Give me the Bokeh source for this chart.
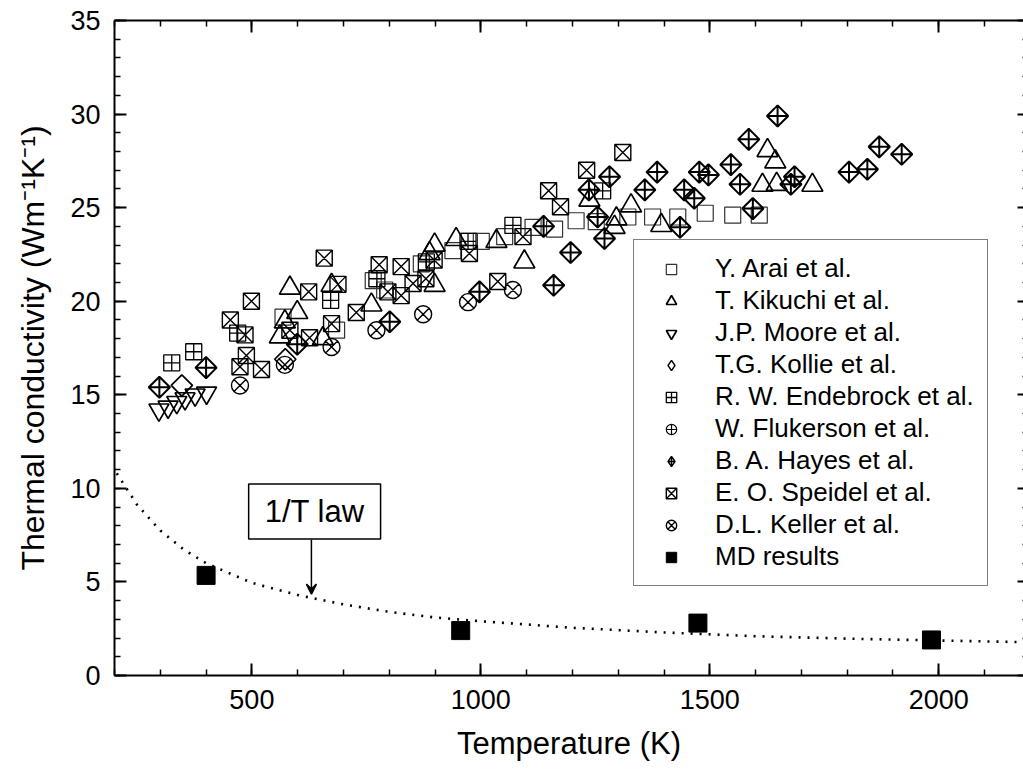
import math
from bokeh.plotting import figure
from bokeh.models import (Range1d, LinearAxis, SingleIntervalTicker, Label, Arrow,
                          VeeHead, Legend, LegendItem)
from bokeh.embed import file_html
from bokeh.resources import INLINE

FONT = "Liberation Sans"

# ---------------- data ----------------
arai_T = [568, 685, 765, 790, 870, 939, 975, 1001, 1052, 1114, 1161, 1208, 1252, 1321, 1375, 1430, 1490, 1550, 1608]
arai_k = [19.15, 18.45, 21.1, 20.6, 22.0, 22.7, 23.2, 23.2, 23.45, 23.95, 23.85, 24.3, 24.25, 24.5, 24.5, 24.5, 24.7, 24.6, 24.6]

kikuchi_T = [561, 572, 583, 599, 655, 674, 761, 888, 899, 899, 946, 1034, 1095, 1237, 1292, 1296, 1328, 1394, 1615, 1626, 1643, 1646, 1724]
kikuchi_k = [18.1, 18.9, 20.7, 19.4, 18.0, 20.85, 19.8, 22.55, 23.0, 20.85, 23.3, 23.2, 22.1, 25.4, 23.95, 24.4, 25.1, 24.05, 26.2, 28.05, 27.45, 26.25, 26.2]

moore_T = [297, 317, 336, 354, 376, 401]
moore_k = [14.2, 14.35, 14.6, 14.8, 15.0, 15.1]

kollie_T = [347, 573]
kollie_k = [15.5, 16.9]

endebrock_T = [325, 373, 469, 672, 773, 881, 972, 1070, 1266]
endebrock_k = [16.7, 17.3, 18.3, 20.05, 21.2, 22.1, 23.2, 24.05, 25.9]

flukerson_T = []
flukerson_k = []

hayes_T = [298, 400, 599, 801, 997, 1137, 1159, 1196, 1236, 1255, 1270, 1281, 1358, 1385, 1435, 1444, 1466,
           1477, 1497, 1546, 1566, 1585, 1594, 1648, 1677, 1685, 1804, 1844, 1870, 1919]
hayes_k = [15.4, 16.45, 17.7, 18.9, 20.5, 24.0, 20.85, 22.6, 25.95, 24.5, 23.35, 26.65, 25.95, 26.9, 23.95, 25.95, 25.5,
           26.9, 26.75, 27.3, 26.25, 28.65, 24.95, 29.9, 26.25, 26.65, 26.9, 27.05, 28.25, 27.85]

speidel_T = [453, 474, 485, 488, 499, 521, 583, 624, 626, 658, 674, 688, 728, 778, 797, 826, 826, 852, 880, 898,
             975, 1037, 1092, 1148, 1174, 1231, 1310]
speidel_k = [19.0, 16.5, 18.2, 17.1, 20.0, 16.35, 18.45, 20.5, 18.05, 22.3, 18.8, 20.9, 19.4, 21.95, 20.5, 21.85, 20.3,
             20.95, 21.2, 22.2, 22.55, 21.05, 23.45, 25.9, 25.05, 27.0, 27.95]

keller_T = [474, 572, 674, 772, 874, 972, 1070]
keller_k = [15.5, 16.6, 17.55, 18.45, 19.3, 19.95, 20.6]

md_T = [400, 956, 1474, 1984]
md_k = [5.35, 2.4, 2.8, 1.9]

law_T = [205, 250, 300, 350, 400, 500, 600, 700, 800, 900, 1000, 1200, 1400, 1600, 1800, 2000, 2190]
law_k = [10.8, 9.1, 7.75, 6.75, 6.0, 4.95, 4.3, 3.8, 3.4, 3.1, 2.9, 2.55, 2.3, 2.1, 1.97, 1.87, 1.78]

labels = ["Y. Arai et al.", "T. Kikuchi et al.", "J.P. Moore et al.", "T.G. Kollie et al.",
          "R. W. Endebrock et al.", "W. Flukerson et al.", "B. A. Hayes et al.",
          "E. O. Speidel et al.", "D.L. Keller et al.", "MD results"]

# ---------------- figure ----------------
p = figure(width=1023, height=774, output_backend="svg", toolbar_location=None,
           x_range=Range1d(200, 2185), y_range=Range1d(0, 35),
           x_axis_location=None, y_axis_location=None,
           min_border_left=114, min_border_right=0, min_border_top=20, min_border_bottom=99)
p.grid.grid_line_color = None
p.outline_line_color = None
p.background_fill_color = "white"
p.border_fill_color = "white"

xt = SingleIntervalTicker(interval=500, num_minor_ticks=5)
yt = SingleIntervalTicker(interval=5, num_minor_ticks=5)


def style(ax, labels_on=True):
    ax.axis_line_width = 2
    ax.axis_line_color = "black"
    ax.major_tick_in = 12
    ax.major_tick_out = 0
    ax.minor_tick_in = 6
    ax.minor_tick_out = 0
    ax.major_tick_line_width = 2
    ax.minor_tick_line_width = 1.5
    ax.major_tick_line_color = "black"
    ax.minor_tick_line_color = "black"
    ax.major_label_text_font = FONT
    ax.axis_label_text_font = FONT
    ax.axis_label_text_font_style = "normal"
    ax.axis_label_text_font_size = "31px"
    ax.axis_label_text_color = "black"
    if labels_on:
        ax.major_label_text_font_size = "27px"
        ax.major_label_text_color = "black"
    else:
        ax.major_label_text_font_size = "1px"
        ax.major_label_text_color = None
        ax.major_label_standoff = 0


bottom = LinearAxis(ticker=xt, axis_label="Temperature (K)")
style(bottom)
bottom.major_label_standoff = 14
bottom.axis_label_standoff = 14
left = LinearAxis(ticker=yt, axis_label="Thermal conductivity (Wm\u207b\u00b9K\u207b\u00b9)")
style(left)
left.axis_label_text_font_size = "32px"
left.major_label_standoff = 14
left.axis_label_standoff = 16
top = LinearAxis(ticker=xt)
style(top, False)
right = LinearAxis(ticker=yt)
style(right, False)
right.axis_line_color = None
right.major_tick_in = 6
right.minor_tick_in = 1

p.add_layout(bottom, "below")
p.add_layout(left, "left")
p.add_layout(top, "above")
p.add_layout(right, "right")

# ---------------- 1/T law curve ----------------
p.line(law_T, law_k, line_color="black", line_width=2.6, line_dash="2 7")

# ---------------- scatter series ----------------
common = dict(fill_color=None, line_color="black")
r_arai = p.scatter(arai_T, arai_k, marker="square", size=16, line_width=1.2, fill_color=None, line_color="#333333")
r_kik = p.scatter(kikuchi_T, kikuchi_k, marker="triangle", size=21, line_width=1.7, **common)
r_moore = p.scatter(moore_T, moore_k, marker="inverted_triangle", size=20, line_width=1.7, **common)
r_kollie = p.scatter(kollie_T, kollie_k, marker="square", angle=math.pi / 4, size=15, line_width=1.7, **common)
r_ende = p.scatter(endebrock_T, endebrock_k, marker="square_cross", size=16, line_width=1.3, **common)
r_fluk = p.scatter(flukerson_T, flukerson_k, marker="circle_cross", size=16, line_width=1.3, **common)
r_hayes = p.scatter(hayes_T, hayes_k, marker="square_x", angle=math.pi / 4, size=15, line_width=2.0, **common)
r_speid = p.scatter(speidel_T, speidel_k, marker="square_x", size=16, line_width=1.4, **common)
r_keller = p.scatter(keller_T, keller_k, marker="circle_x", size=17, line_width=1.4, **common)
r_md = p.scatter(md_T, md_k, marker="square", size=18, fill_color="black", line_color="black")

# legend-only proxies (no visible point; they only supply the legend symbol)
nan = float("nan")
lg_kollie = p.scatter([nan], [nan], marker="diamond", size=15, line_width=1.4, **common)
lg_fluk = p.scatter([nan], [nan], marker="circle_cross", size=16, line_width=1.2, **common)
lg_hayes = p.scatter([nan], [nan], marker="diamond_cross", size=15, line_width=1.4, **common)

renderers = [[r_arai], [r_kik], [r_moore], [lg_kollie], [r_ende], [lg_fluk], [lg_hayes], [r_speid], [r_keller], [r_md]]
items = [LegendItem(label=l, renderers=r) for l, r in zip(labels, renderers)]
legend = Legend(items=items, location=(519, 89), label_text_font=FONT, label_text_font_size="26px",
                label_text_color="black", glyph_width=48, glyph_height=26, label_height=26,
                label_standoff=20, spacing=1, padding=13, margin=0,
                border_line_color="black", border_line_width=1.5, background_fill_color="white",
                background_fill_alpha=1.0)
p.add_layout(legend, "center")

# ---------------- annotation ----------------
LAW_LABEL_T, LAW_LABEL_K = 637, 8.77
ARROW_T, ARROW_K0, ARROW_K1 = 630, 7.25, 4.35
lab = Label(x=LAW_LABEL_T, y=LAW_LABEL_K, text="1/T law", text_align="center", text_baseline="middle",
            text_font=FONT, text_font_size="31px", text_color="black",
            border_line_color="black", border_line_width=1.5, background_fill_color="white",
            padding=dict(left=16, right=16, top=10, bottom=10))
p.add_layout(lab)
p.add_layout(Arrow(x_start=ARROW_T, y_start=ARROW_K0, x_end=ARROW_T, y_end=ARROW_K1,
                   line_width=1.5, line_color="black",
                   end=VeeHead(size=10, line_width=1.5, line_color="black", fill_color="black")))

open("out.html", "w").write(file_html(p, INLINE))
